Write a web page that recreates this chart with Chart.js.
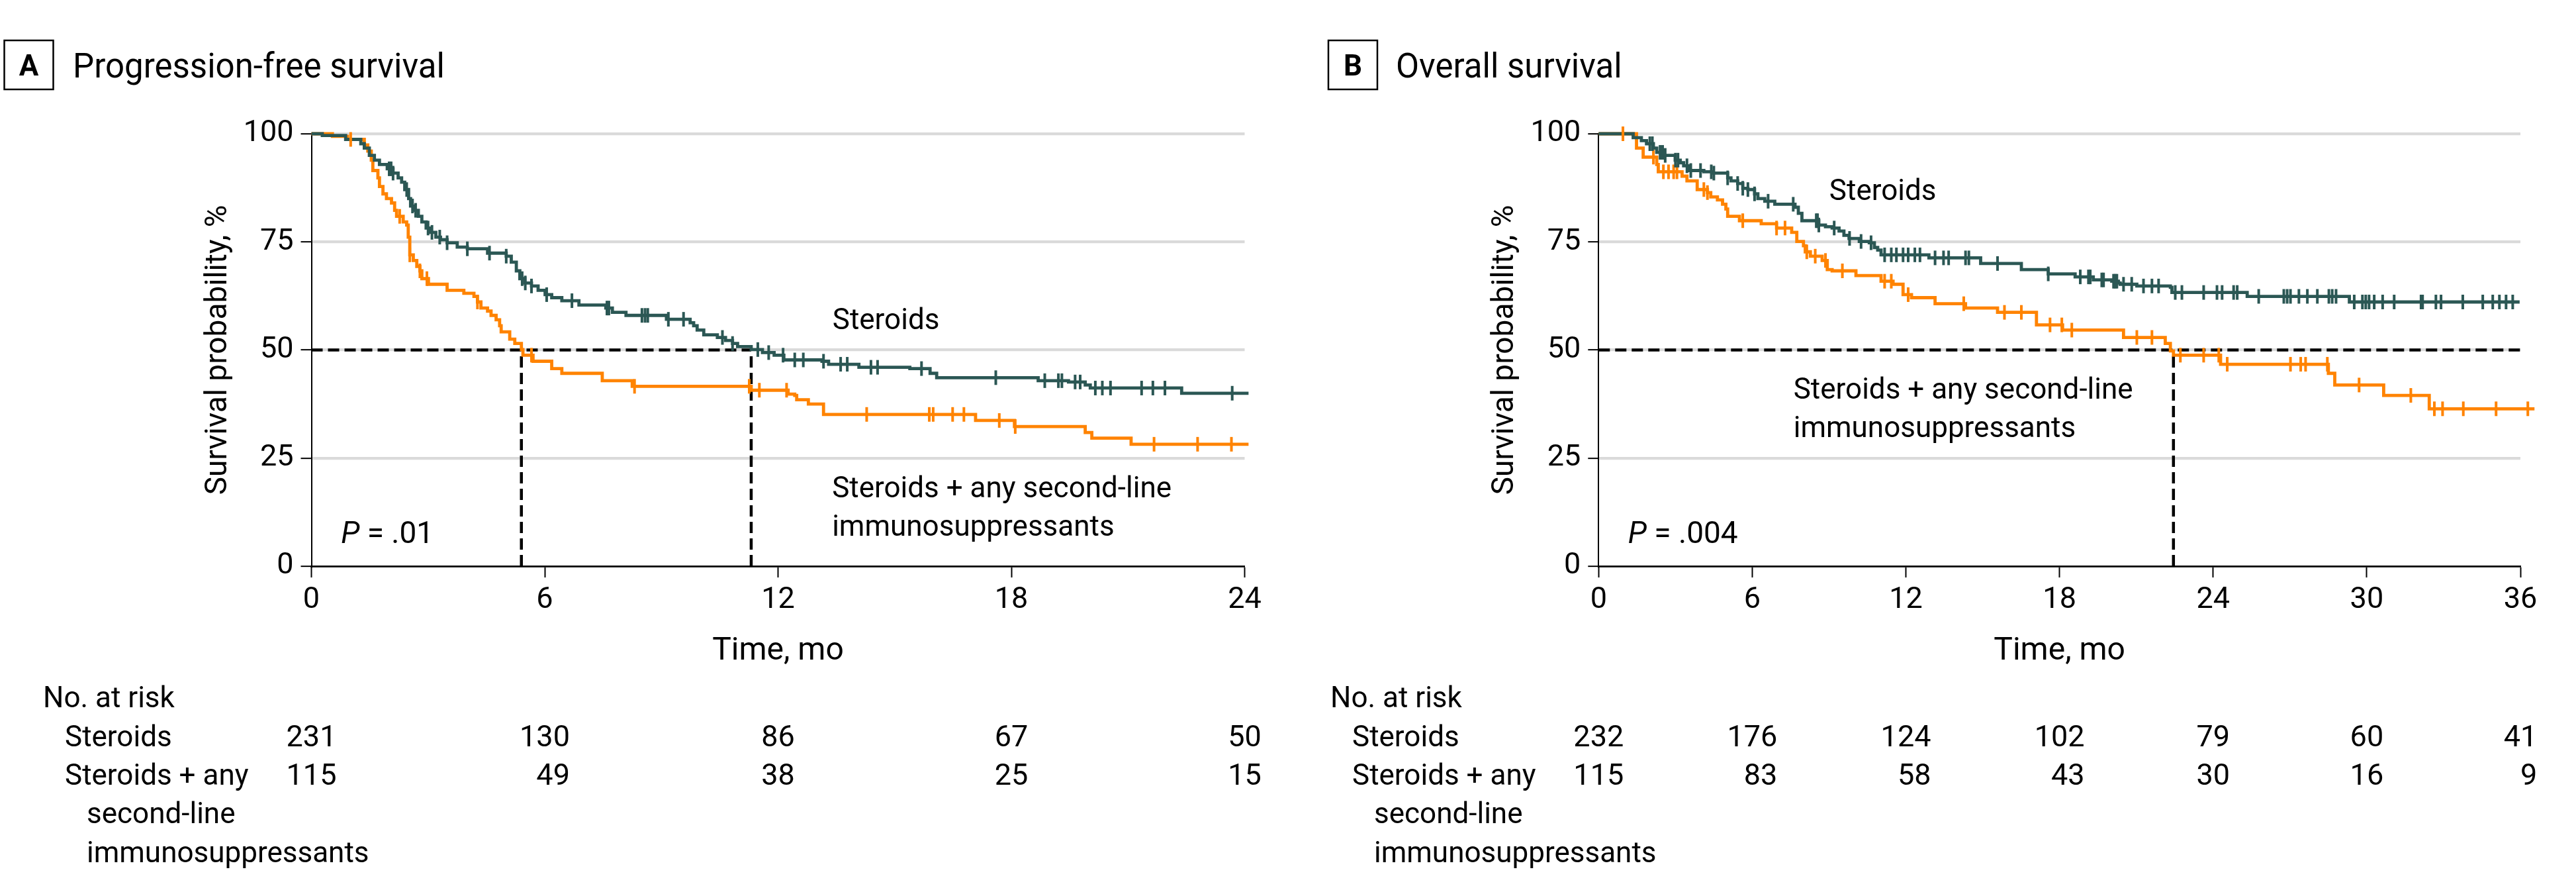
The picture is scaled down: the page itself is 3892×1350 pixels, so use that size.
<!DOCTYPE html>
<html lang="en">
<head>
<meta charset="UTF-8">
<title>Survival by treatment</title>
<script src="https://cdn.jsdelivr.net/npm/chart.js@4"></script>
<style>
    body { margin: 0; background: #fff; width: 3892px; height: 1350px; overflow: hidden; }
    .panel { position: absolute; top: 0; width: 1946px; height: 1350px; }
    #panelA { left: 0; }
    #panelB { left: 1946px; }
</style>
</head>
<body>
<div class="panel" id="panelA"><canvas id="chartA" width="1946" height="1350"></canvas></div>
<div class="panel" id="panelB"><canvas id="chartB" width="1946" height="1350"></canvas></div>
<script>
const FONT = 'Roboto, "Liberation Sans", sans-serif';
const TEAL = '#2b5754';
const ORANGE = '#ff8300';

// A - progression-free survival (months, %)
const pfsSteroidsTime = [0,0.28,0.88,1.27,1.36,1.49,1.62,1.75,1.95,2.10,2.23,2.32,2.40,2.50,2.55,2.62,2.75,2.84,2.95,3.06,3.20,3.32,3.49,3.75,4.01,4.53,5.01,5.14,5.27,5.36,5.49,5.66,5.83,6.01,6.18,6.44,6.88,7.57,7.74,8.09,9.13,9.74,9.83,9.92,10.09,10.44,10.65,10.83,10.96,11.31,11.60,11.90,12.15,13.13,13.30,14.08,15.39,15.91,16.08,18.69,19.47,19.90,20.03,22.38,24.10];
const pfsSteroidsSurv = [100,99.6,98.7,97.7,96.7,95.0,93.9,92.9,91.9,90.9,89.8,88.8,87.1,85.0,83.3,82.3,80.9,79.6,78.2,77.2,76.1,75.5,74.8,73.8,73.4,72.4,71.7,70.3,68.3,66.5,65.5,64.8,63.8,62.8,62.1,61.4,60.4,59.7,58.7,58.0,57.1,56.3,55.6,54.6,53.5,52.9,52.2,51.5,50.8,50.1,49.4,48.8,47.7,47.4,46.7,46.0,45.7,44.6,43.6,42.9,42.6,41.9,41.2,40.0,40.0];
const pfsSteroidsCensor = [2.0,2.05,2.1,2.45,2.6,2.68,3.0,3.1,3.3,3.49,4.01,4.58,5.01,5.42,5.5,5.66,6.05,6.70,7.6,7.65,8.5,8.58,8.65,9.18,9.57,10.57,10.83,11.48,11.76,12.13,12.43,12.65,13.17,13.61,13.78,14.39,14.56,15.69,17.60,18.86,19.21,19.30,19.64,19.77,20.16,20.34,20.55,21.35,21.64,21.95,23.68];

const pfsComboTime = [0,0.54,0.93,1.36,1.45,1.54,1.58,1.71,1.75,1.84,1.93,2.06,2.14,2.19,2.36,2.45,2.49,2.53,2.62,2.71,2.79,2.84,3.01,3.49,3.92,4.18,4.27,4.36,4.53,4.62,4.75,4.84,4.88,5.10,5.23,5.40,5.44,5.70,6.18,6.44,7.48,8.25,11.31,12.26,12.43,12.48,12.78,13.17,17.08,18.08,19.90,20.07,21.08,24.10];
const pfsComboSurv = [100,99.4,98.7,97.4,96.0,93.9,91.5,89.8,87.8,86.1,85.0,84.0,82.3,80.9,79.6,78.9,76.1,72.0,70.7,69.3,68.3,66.5,65.2,63.8,63.1,62.4,61.1,59.7,59.0,58.0,57.0,55.6,54.2,52.5,51.5,50.1,48.8,47.4,45.7,44.6,42.9,41.6,40.7,39.8,39.5,38.5,37.5,35.1,33.7,32.3,30.9,29.6,28.2,28.2];
const pfsComboCensor = [1.01,2.27,2.53,2.79,2.97,4.27,5.66,8.31,11.26,11.52,12.22,14.28,15.89,15.99,16.49,16.78,17.69,18.10,21.67,22.79,23.66];

const pfsMedians = [5.40, 11.31];
const pfsRiskTimes = [0, 6, 12, 18, 24];
const pfsRiskSteroids = [231, 130, 86, 67, 50];
const pfsRiskCombo = [115, 49, 38, 25, 15];

// B - overall survival (months, %)
const osSteroidsTime = [0,1.35,1.67,1.87,2.14,2.27,2.53,2.99,3.19,3.32,3.52,4.11,4.44,5.04,5.17,5.43,5.63,5.83,6.09,6.22,6.49,6.88,7.67,7.80,7.94,8.60,8.86,9.12,9.39,9.58,9.78,10.18,10.57,10.77,10.90,11.03,12.90,14.92,16.51,17.56,18.61,19.32,20.04,20.30,20.37,21.02,22.33,22.39,25.33,29.32,35.97];
const osSteroidsSurv = [100,99.1,98.4,97.7,96.7,95.7,95.0,93.9,93.3,92.6,91.5,91.2,90.9,89.8,89.1,88.5,87.4,87.1,86.1,85.0,84.4,83.7,83.0,81.6,79.9,78.9,78.5,78.2,77.5,76.5,75.8,75.1,74.8,73.7,73.1,72.0,71.3,70.0,68.6,67.6,66.9,66.2,65.9,65.5,65.2,64.8,64.5,63.3,62.4,61.1,61.1];
const osSteroidsCensor = [2.0,2.1,2.4,2.5,2.6,3.0,3.1,3.45,3.6,3.98,4.4,4.5,5.04,5.43,5.63,5.83,6.09,6.62,7.6,8.5,8.55,8.6,9.2,9.8,10.25,10.64,11.17,11.43,11.63,11.89,12.09,12.35,12.55,13.14,13.47,13.67,14.33,14.46,15.58,17.56,18.81,19.13,19.20,19.65,19.72,20.11,20.17,20.24,20.50,20.82,21.28,21.61,21.87,22.52,22.78,23.63,24.15,24.35,24.80,24.94,25.78,26.76,26.89,27.02,27.35,27.68,28.07,28.52,28.65,28.80,29.51,29.83,29.96,30.09,30.29,30.62,31.07,32.12,32.18,32.70,32.90,33.75,34.53,34.92,35.18,35.44,35.70];

const osComboTime = [0,1.48,1.74,2.27,2.33,3.26,3.45,3.85,4.25,4.38,4.64,4.84,4.97,5.04,5.50,6.35,6.95,7.54,7.74,8.00,8.07,8.27,8.73,8.93,9.12,10.05,11.03,11.50,11.89,12.22,13.14,14.33,15.58,17.10,18.12,20.50,22.13,22.33,22.45,24.29,28.50,28.75,30.66,32.44,36.55];
const osComboSurv = [100,96.7,94.6,92.9,91.2,90.2,89.1,87.1,86.4,85.4,84.7,83.7,82.6,80.9,79.9,79.2,78.2,77.2,75.1,74.1,72.7,71.7,70.7,68.6,68.3,67.2,65.9,65.2,62.8,62.1,60.7,59.7,58.7,55.8,54.6,52.9,51.5,49.8,48.8,46.7,44.6,41.9,39.5,36.4,36.4];
const osComboCensor = [0.95,2.14,2.53,2.73,2.93,3.06,4.11,4.25,5.63,6.95,7.28,8.13,8.46,8.86,9.52,11.17,11.43,12.09,14.26,15.85,16.51,17.63,18.09,18.48,21.02,21.61,22.72,23.63,24.22,24.55,27.02,27.42,27.61,28.46,29.70,31.72,32.64,32.96,33.77,35.05,36.29];

const osMedians = [22.45];
const osRiskTimes = [0, 6, 12, 18, 24, 30, 36];
const osRiskSteroids = [232, 176, 124, 102, 79, 60, 41];
const osRiskCombo = [115, 83, 58, 43, 30, 16, 9];

// helpers
function survivalAt(times, surv, t) {
    let s = surv[0];
    for (let i = 0; i < times.length; i++) {
        if (times[i] <= t) s = surv[i]; else break;
    }
    return s;
}
function curve(times, surv) {
    return times.map((t, i) => ({ x: t, y: surv[i] }));
}
function censorPoints(censor, times, surv) {
    return censor.map(t => ({ x: t, y: survivalAt(times, surv, t) }));
}

function kmDataset(times, surv, color) {
    return { data: curve(times, surv), borderColor: color, borderWidth: 4.8, stepped: true, pointRadius: 0, clip: false, order: 2 };
}
function censorDataset(censor, times, surv, color) {
    return { data: censorPoints(censor, times, surv), showLine: false, pointStyle: 'line', rotation: 90, pointRadius: 11,
             pointBorderWidth: 4, pointBorderColor: color, borderColor: color, clip: false, order: 1 };
}
function dashDataset(points) {
    return { data: points, borderColor: '#000', borderWidth: 4.5, borderDash: [17, 8], pointRadius: 0, clip: false, order: 3 };
}

function decorPlugin(cfg) {
    return {
        id: 'decor' + cfg.letter,
        afterDraw(chart) {
            const c = chart.ctx, xs = chart.scales.x, ys = chart.scales.y;
            c.save();
            c.fillStyle = '#000';
            c.strokeStyle = '#000';
            c.textBaseline = 'alphabetic';

            // panel letter + title
            c.lineWidth = 2.5;
            c.strokeRect(cfg.boxX, 61, 74, 74);
            c.font = 'bold 44px ' + FONT;
            c.textAlign = 'center';
            c.fillText(cfg.letter, cfg.boxX + 37, 114);
            c.textAlign = 'left';
            c.font = '51px ' + FONT;
            c.fillText(cfg.title, cfg.titleX, 117);

            // curve labels
            c.font = '44px ' + FONT;
            cfg.labels.forEach(l => c.fillText(l.text, xs.getPixelForValue(l.x), ys.getPixelForValue(l.y)));

            // P value
            let px = xs.getPixelForValue(cfg.pPos.x);
            const py = ys.getPixelForValue(cfg.pPos.y);
            c.font = 'italic 46px ' + FONT;
            c.fillText('P', px, py);
            px += c.measureText('P').width;
            c.font = '46px ' + FONT;
            c.fillText(' = ' + cfg.pValue, px, py);

            // number at risk
            c.font = '44px ' + FONT;
            const left = cfg.riskLeft;
            c.fillText('No. at risk', left, 1068);
            c.fillText('Steroids', left + 33, 1127);
            c.fillText('Steroids + any', left + 33, 1185);
            c.fillText('second-line', left + 66, 1243);
            c.fillText('immunosuppressants', left + 66, 1302);
            c.font = '45px ' + FONT;
            c.textAlign = 'right';
            cfg.riskTimes.forEach((t, i) => {
                const a = String(cfg.riskSteroids[i]), b = String(cfg.riskCombo[i]);
                const w = Math.max(c.measureText(a).width, c.measureText(b).width);
                const right = xs.getPixelForValue(t) + w / 2;
                c.fillText(a, right, 1127);
                c.fillText(b, right, 1185);
            });
            c.restore();
        }
    };
}

function makeChart(canvasId, cfg) {
    return new Chart(document.getElementById(canvasId), {
        type: 'line',
        data: { datasets: cfg.datasets },
        options: {
            responsive: false,
            animation: false,
            events: [],
            layout: { padding: { left: cfg.padLeft, right: cfg.padRight, top: 202, bottom: 335 } },
            plugins: { legend: { display: false }, tooltip: { enabled: false } },
            scales: {
                x: {
                    type: 'linear', min: 0, max: cfg.xMax,
                    afterFit: s => { s.height = 160; },
                    ticks: { stepSize: 6, color: '#000', padding: 8, maxRotation: 0, font: { family: FONT, size: 45 } },
                    grid: { drawOnChartArea: false, tickLength: 17, tickColor: '#000', tickWidth: 2 },
                    border: { color: '#000', width: 2.7 },
                    title: { display: true, text: 'Time, mo', color: '#000', font: { family: FONT, size: 48 }, padding: { top: 0, bottom: 2 } }
                },
                y: {
                    min: 0, max: 100,
                    afterFit: s => { s.width = 170; },
                    ticks: { stepSize: 25, color: '#000', padding: 11, font: { family: FONT, size: 45 } },
                    grid: {
                        color: c => (c.tick && c.tick.value === 0) ? 'rgba(0,0,0,0)' : '#dadada',
                        lineWidth: 4.3, tickLength: 16, tickColor: '#000', tickWidth: 2
                    },
                    border: { color: '#000', width: 2 },
                    title: { display: true, text: 'Survival probability, %', color: '#000', font: { family: FONT, size: 46 }, padding: { top: 2, bottom: 0 } }
                }
            }
        },
        plugins: [decorPlugin(cfg)]
    });
}

makeChart('chartA', {
    letter: 'A', title: 'Progression-free survival', boxX: 6.5, titleX: 110,
    xMax: 24, padLeft: 300.5, padRight: 65.5,
    datasets: [
        censorDataset(pfsSteroidsCensor, pfsSteroidsTime, pfsSteroidsSurv, TEAL),
        censorDataset(pfsComboCensor, pfsComboTime, pfsComboSurv, ORANGE),
        kmDataset(pfsSteroidsTime, pfsSteroidsSurv, TEAL),
        kmDataset(pfsComboTime, pfsComboSurv, ORANGE),
        dashDataset([{ x: 0, y: 50 }, { x: pfsMedians[1], y: 50 }]),
        dashDataset([{ x: pfsMedians[0], y: 0 }, { x: pfsMedians[0], y: 50 }]),
        dashDataset([{ x: pfsMedians[1], y: 0 }, { x: pfsMedians[1], y: 50 }])
    ],
    labels: [
        { text: 'Steroids', x: 13.4, y: 54.9 },
        { text: 'Steroids + any second-line', x: 13.39, y: 16.0 },
        { text: 'immunosuppressants', x: 13.39, y: 7.1 }
    ],
    pPos: { x: 0.76, y: 5.4 }, pValue: '.01',
    riskLeft: 65, riskTimes: pfsRiskTimes, riskSteroids: pfsRiskSteroids, riskCombo: pfsRiskCombo
});

makeChart('chartB', {
    letter: 'B', title: 'Overall survival', boxX: 61, titleX: 163,
    xMax: 36, padLeft: 299.3, padRight: 84,
    datasets: [
        censorDataset(osSteroidsCensor, osSteroidsTime, osSteroidsSurv, TEAL),
        censorDataset(osComboCensor, osComboTime, osComboSurv, ORANGE),
        kmDataset(osSteroidsTime, osSteroidsSurv, TEAL),
        kmDataset(osComboTime, osComboSurv, ORANGE),
        dashDataset([{ x: 0, y: 50 }, { x: 36, y: 50 }]),
        dashDataset([{ x: osMedians[0], y: 0 }, { x: osMedians[0], y: 50 }])
    ],
    labels: [
        { text: 'Steroids', x: 9.01, y: 84.7 },
        { text: 'Steroids + any second-line', x: 7.61, y: 38.8 },
        { text: 'immunosuppressants', x: 7.61, y: 29.9 }
    ],
    pPos: { x: 1.15, y: 5.4 }, pValue: '.004',
    riskLeft: 64, riskTimes: osRiskTimes, riskSteroids: osRiskSteroids, riskCombo: osRiskCombo
});
</script>
</body>
</html>
